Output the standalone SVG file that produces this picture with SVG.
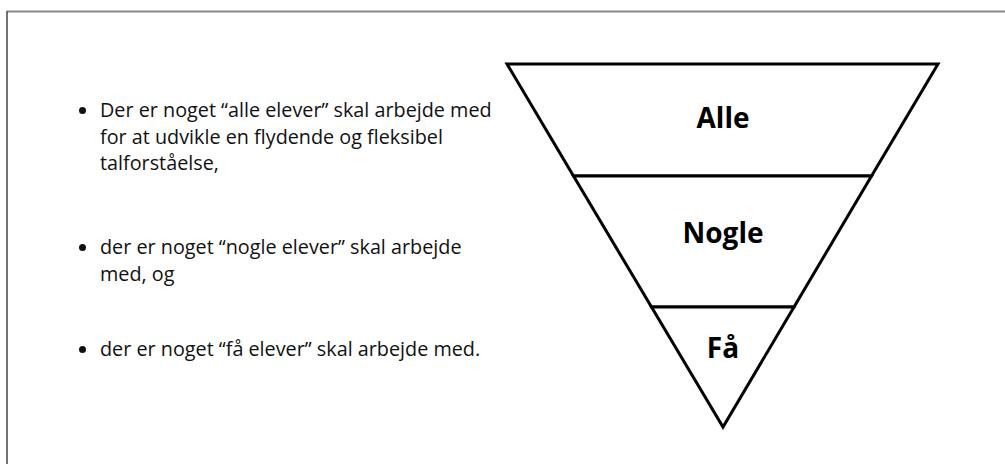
<svg xmlns="http://www.w3.org/2000/svg" width="1005" height="464" viewBox="0 0 1005 464">
<style>
.body{font-family:"Open Sans","Noto Sans","Liberation Sans",sans-serif;font-size:19.8px;fill:#111}
.lbl{font-family:"Open Sans","Noto Sans","Liberation Sans",sans-serif;font-size:28px;font-weight:bold;fill:#000;text-anchor:middle}
.seg{fill:#fff;stroke:#000;stroke-width:3;stroke-linejoin:miter}
</style>
<rect width="1005" height="464" fill="#fff"/>
<line x1="7" y1="11.5" x2="1005" y2="11.5" stroke="#888" stroke-width="2"/>
<line x1="7" y1="11" x2="7" y2="464" stroke="#444" stroke-width="1.5"/>
<g id="text-list">
<circle cx="82.5" cy="110.5" r="3.5" fill="#111"/>
<text class="body" x="100" y="117">Der er noget “alle elever” skal arbejde med</text>
<text class="body" x="100" y="143.5">for at udvikle en flydende og fleksibel</text>
<text class="body" x="100" y="170">talforståelse,</text>
<circle cx="82.5" cy="247.5" r="3.5" fill="#111"/>
<text class="body" x="100" y="254">der er noget “nogle elever” skal arbejde</text>
<text class="body" x="100" y="281">med, og</text>
<circle cx="82.5" cy="349.5" r="3.5" fill="#111"/>
<text class="body" x="100" y="356">der er noget “få elever” skal arbejde med.</text>
</g>
<g id="pyramid">
<g id="level-alle">
<polygon class="seg" points="507,64 938,64 871.5,176 573.5,176"/>
<text class="lbl" x="723" y="128">Alle</text>
</g>
<g id="level-nogle">
<polygon class="seg" points="573.5,176 871.5,176 794,307 651.5,307"/>
<text class="lbl" x="723" y="243">Nogle</text>
</g>
<g id="level-faa">
<polygon class="seg" points="651.5,307 794,307 723,427"/>
<text class="lbl" x="723" y="358">Få</text>
</g>
</g>
</svg>
